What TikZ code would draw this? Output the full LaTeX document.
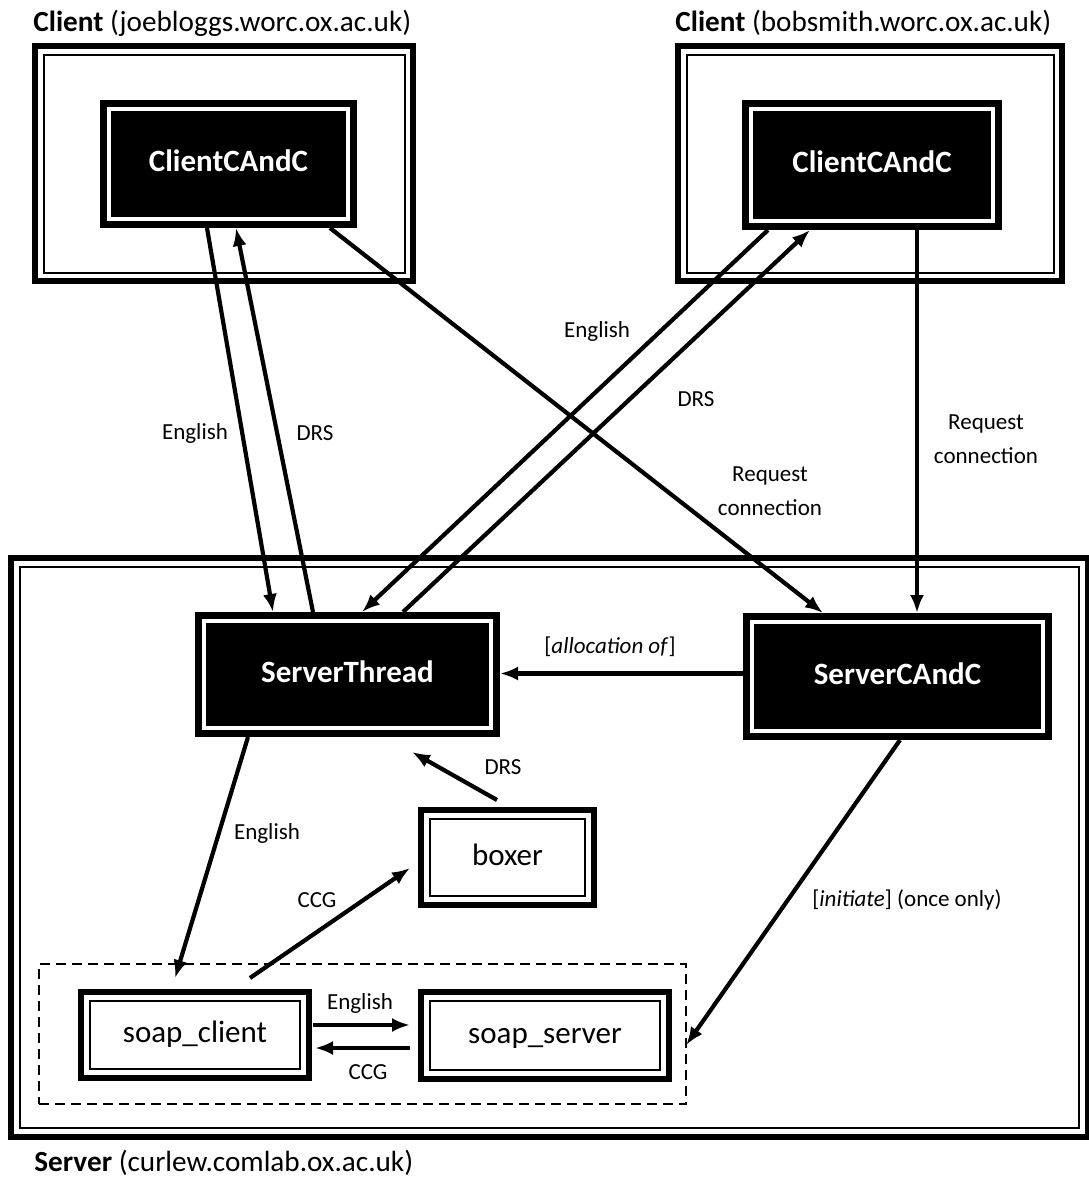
\documentclass[tikz,border=0pt]{standalone}
\usepackage{fontspec}
\setmainfont{Carlito}
\usetikzlibrary{arrows.meta}
\newcommand\frameinset[4]{\draw[#2, line width=#3] ([shift={(#4,#4)}]#1.north west) rectangle ([shift={(-#4,-#4)}]#1.south east);}
\begin{document}
\begin{tikzpicture}[x=0.5pt,y=-0.5pt,
  container/.style={draw, line width=3pt, inner sep=0, outer sep=0},
  darknode/.style={fill=black, inner sep=0, outer sep=0, text=white, font=\fontsize{15.5}{18}\selectfont\bfseries, text height=11pt, text depth=3.5pt},
  whitenode/.style={draw, line width=3pt, fill=white, inner sep=0, outer sep=0, font=\fontsize{15.5}{18}\selectfont, text height=11pt, text depth=3.5pt},
  group/.style={draw, line width=0.8pt, dash pattern=on 5pt off 3pt, inner sep=0, outer sep=0},
  lbl/.style={font=\fontsize{11.5}{17}\selectfont, inner sep=0, align=center},
  title/.style={font=\fontsize{14.6}{17}\selectfont, inner sep=0, anchor=west},
  conn/.style={line width=2.1pt, -{Latex[length=9pt,width=7pt]}}
]
\useasboundingbox (0,0) rectangle (1088,1178);
\fill[white] (0,0) rectangle (1088,1178);

% containers
\node[container, minimum width=189pt, minimum height=117.5pt] (cl1) at (224,163.5) {};
\frameinset{cl1}{black}{1pt}{8.5}
\node[container, minimum width=192pt, minimum height=117.5pt] (cl2) at (870,163.5) {};
\frameinset{cl2}{black}{1pt}{8.5}
\node[container, minimum width=538.5pt, minimum height=289.5pt] (srv) at (549.5,847.5) {};
\frameinset{srv}{black}{1pt}{9}

% titles
\node[title] (t1) at (33,23) {\textbf{Client} (joebloggs.worc.ox.ac.uk)};
\node[title] (t2) at (675,23) {\textbf{Client} (bobsmith.worc.ox.ac.uk)};
\node[title] (t3) at (34,1163) {\textbf{Server} (curlew.comlab.ox.ac.uk)};

% dark nodes
\node[darknode, minimum width=128.5pt, minimum height=64pt] (cc1) at (228.5,164) {ClientCAndC};
\frameinset{cc1}{white}{1.8pt}{9}
\node[darknode, minimum width=130pt, minimum height=65pt] (cc2) at (872,165) {ClientCAndC};
\frameinset{cc2}{white}{1.8pt}{9}
\node[darknode, minimum width=152.5pt, minimum height=62.5pt] (st) at (347.5,674.5) {ServerThread};
\frameinset{st}{white}{1.8pt}{9}
\node[darknode, minimum width=154.5pt, minimum height=63.5pt] (sc) at (897.5,676.5) {ServerCAndC};
\frameinset{sc}{white}{1.8pt}{9}

% group
\node[group, minimum width=323.7pt, minimum height=70.2pt] (grp) at (362.5,1034) {};

% white nodes
\node[whitenode, minimum width=86.5pt, minimum height=47.5pt] (boxer) at (507.5,857.5) {boxer};
\frameinset{boxer}{black}{0.8pt}{9}
\node[whitenode, minimum width=114pt, minimum height=43pt] (scl) at (195,1035) {soap\_client};
\frameinset{scl}{black}{0.8pt}{9}
\node[whitenode, minimum width=124pt, minimum height=43.5pt] (ssv) at (545,1035.5) {soap\_server};
\frameinset{ssv}{black}{0.8pt}{9}

% connectors
\draw[conn] ([shift={(-21.5,0)}]cc1.south) -- ([shift={(-74.5,0)}]st.north);
\draw[conn] ([shift={(-34.5,0)}]st.north) -- ([shift={(7.5,0)}]cc1.south);
\draw[conn] ([shift={(101.5,0)}]cc1.south) -- ([shift={(-74.5,0)}]sc.north);
\draw[conn] ([shift={(-104,0)}]cc2.south) -- ([shift={(14.5,0)}]st.north);
\draw[conn] ([shift={(55.5,0)}]st.north) -- ([shift={(-62,0)}]cc2.south);
\draw[conn] ([shift={(45,0)}]cc2.south) -- ([shift={(19.5,0)}]sc.north);
\draw[conn] ([shift={(0,-3)}]sc.west) -- ([shift={(0,-3)}]sc.west -| st.east);
\draw[conn] ([shift={(2.5,0)}]sc.south) -- ([shift={(0,11)}]grp.east);
\draw[conn] ([shift={(-99.5,0)}]st.south) -- ([shift={(-20,-14)}]scl.north);
\draw[conn] ([shift={(55,-14)}]scl.north) -- ([shift={(-11,10.5)}]boxer.west);
\draw[conn] ([shift={(-10.5,-10)}]boxer.north) -- ([shift={(64.5,15)}]st.south);
\draw[conn] ([shift={(4,-10)}]scl.east) -- ([shift={(-11,-10.5)}]ssv.west);
\draw[conn] ([shift={(-11,12.5)}]ssv.west) -- ([shift={(6,13)}]scl.east);

% labels
\node[lbl] (l1) at (195,433) {English};
\node[lbl] (l2) at (315,433) {DRS};
\node[lbl] (l3) at (597,331) {English};
\node[lbl] (l4) at (696,399) {DRS};
\node[lbl] (l5) at (770,491) {Request\\connection};
\node[lbl] (l6) at (986,439) {Request\\connection};
\node[lbl] (l7) at (610,647) {[\textit{allocation of}]};
\node[lbl] (l8) at (503,767) {DRS};
\node[lbl] (l9) at (267,833) {English};
\node[lbl] (l10) at (317,900) {CCG};
\node[lbl] (l11) at (907,900) {[\textit{initiate}] (once only)};
\node[lbl] (l12) at (360,1003) {English};
\node[lbl] (l13) at (368,1072) {CCG};
\end{tikzpicture}
\end{document}
